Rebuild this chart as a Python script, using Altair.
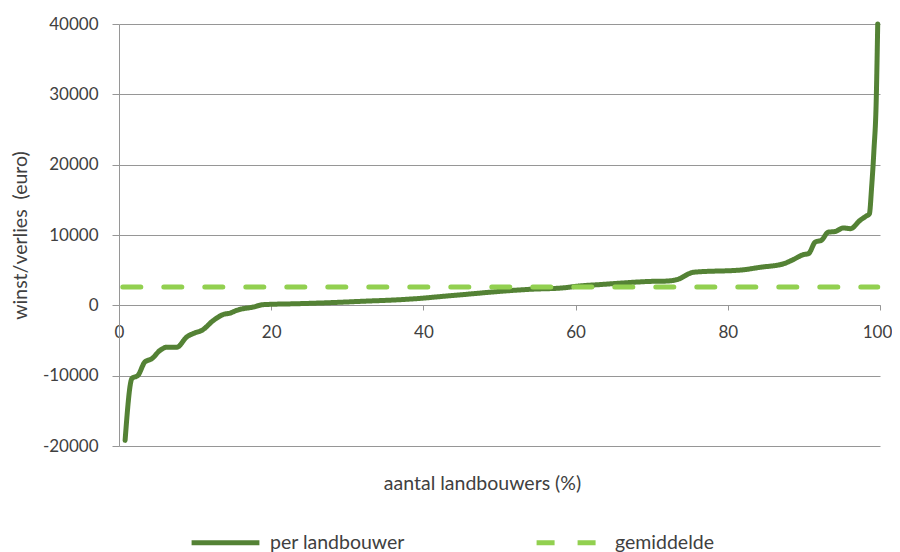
import altair as alt
import pandas as pd

# percentage of farmers (x) and profit/loss in euro (y)
x_pct = [0.8, 1.7, 2.5, 3.4, 4.3, 5.4, 6.3, 7.6, 8.9, 10.0, 10.9, 12.4, 13.7, 14.6,
         15.5, 17.6, 19.0, 23.8, 28.2, 32.5, 36.9, 39.1, 42.6, 46.0, 50.1, 54.4, 58.0,
         61.0, 63.2, 65.8, 69.8, 72.0, 73.3, 75.5, 82.0, 84.2, 87.3, 88.6, 89.9, 90.6,
         91.5, 92.3, 93.2, 94.1, 95.2, 96.1, 97.4, 98.2, 98.6, 98.9, 99.2, 99.5, 99.7]
winst = [-19200, -10400, -9950, -8050, -7600, -6400, -5950, -5950, -4500, -3900, -3550,
         -2150, -1300, -1100, -700, -250, 100, 240, 400, 600, 800, 950, 1280, 1600, 1990,
         2300, 2450, 2800, 2950, 3150, 3400, 3450, 3650, 4700, 5050, 5400, 5900, 6500,
         7200, 7350, 9000, 9250, 10400, 10500, 11000, 10900, 12100, 12700, 13000, 16800,
         22000, 29000, 40000]
avg_x = [0.5, 99.7]
avg_y = [2600, 2600]

series_names = ["per landbouwer", "gemiddelde"]
colors = ["#548235", "#92D050"]

df = pd.concat([
    pd.DataFrame({"x": x_pct, "y": winst, "serie": series_names[0], "o": 0}),
    pd.DataFrame({"x": avg_x, "y": avg_y, "serie": series_names[1], "o": 1}),
])

FONT = "Lato"
GRAY = "#969696"
TXT = "#404040"

chart = alt.Chart(df).mark_line(strokeWidth=5, strokeCap="round", strokeJoin="round",
                                interpolate="monotone").encode(
    x=alt.X("x:Q",
            scale=alt.Scale(domain=[0, 100], nice=False),
            axis=alt.Axis(values=[0, 20, 40, 60, 80, 100], offset=-141, grid=False,
                          title="aantal landbouwers (%)", titleX=363, titleY=178,
                          titleAlign="center", titleBaseline="middle",
                          tickSize=5, labelPadding=14, labelFlush=False,
                          labelOffset=alt.condition("datum.value == 100",
                                                    alt.value(-3), alt.value(0)))),
    y=alt.Y("y:Q",
            scale=alt.Scale(domain=[-20000, 40000], nice=False),
            axis=alt.Axis(values=[-20000, -10000, 0, 10000, 20000, 30000, 40000],
                          labelExpr="'' + datum.value",
                          title="winst/verlies\u00a0 (euro)", titleX=-99,
                          titleBaseline="middle", titleAlign="center",
                          tickSize=7, labelPadding=14, grid=True)),
    color=alt.Color("serie:N", scale=alt.Scale(domain=series_names, range=colors),
                    sort=series_names,
                    legend=alt.Legend(title=None, orient="none", legendX=70, legendY=482,
                                      direction="horizontal", symbolType="stroke",
                                      symbolSize=4600, symbolStrokeWidth=5,
                                      labelFontSize=19.5, labelFont=FONT, labelColor=TXT,
                                      labelOffset=8, columnPadding=121)),
    strokeDash=alt.StrokeDash("serie:N",
                              scale=alt.Scale(domain=series_names, range=[[1, 0], [18, 23]]),
                              sort=series_names, legend=alt.Legend(title=None)),
    detail="o:N",
).properties(
    width=761, height=422,
    autosize=alt.AutoSizeParams(type="none"),
    padding={"left": 111, "top": 16, "right": 12, "bottom": 112},
).configure_view(stroke=None).configure_axis(
    domainColor=GRAY, tickColor=GRAY, gridColor=GRAY, gridWidth=1, domainWidth=1,
    tickWidth=1, labelFont=FONT, labelFontSize=17, labelColor=TXT,
    titleFont=FONT, titleFontSize=19.5, titleColor=TXT, titleFontWeight="normal",
)

chart.save("out.html", embed_options={"renderer": "svg", "actions": False})
